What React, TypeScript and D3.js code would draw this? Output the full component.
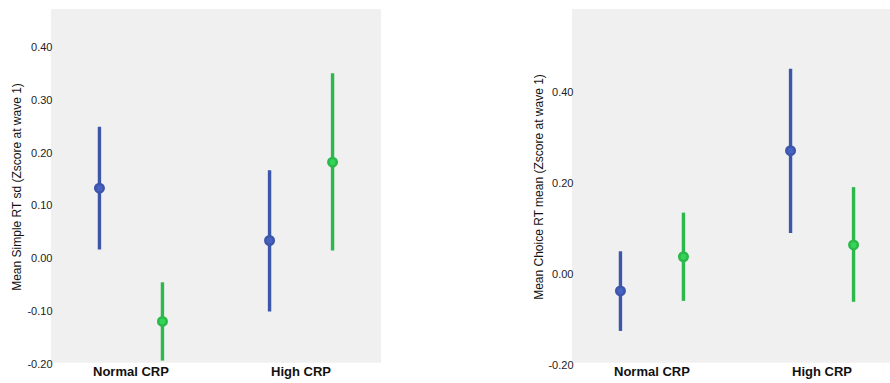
import React from "react";
import * as d3 from "d3";

const categories = ["Normal CRP", "High CRP"];
const groups = ["blue", "green"];

// left panel: Mean Simple RT sd
const simpleMean = [
  [0.133, -0.119],
  [0.034, 0.182],
];
const simpleLow = [
  [0.017, -0.193],
  [-0.1, 0.015],
];
const simpleHigh = [
  [0.249, -0.045],
  [0.167, 0.35],
];
const simpleTicks = [-0.2, -0.1, 0, 0.1, 0.2, 0.3, 0.4];

// right panel: Mean Choice RT mean
const choiceMean = [
  [-0.036, 0.039],
  [0.272, 0.065],
];
const choiceLow = [
  [-0.124, -0.058],
  [0.091, -0.06],
];
const choiceHigh = [
  [0.051, 0.136],
  [0.452, 0.192],
];
const choiceTicks = [-0.2, 0, 0.2, 0.4];

const colors = ["#3d56aa", "#2db84b"];
const font = "Arial, 'Liberation Sans', sans-serif";

interface PanelProps {
  left: number;
  title: string;
  titleX: number;
  domain: [number, number];
  yRange: [number, number];
  ticks: number[];
  mean: number[][];
  low: number[][];
  high: number[][];
}

const TOP = 9;
const BOTTOM = 362.7;
const WIDTH = 330;

const Panel: React.FC<PanelProps> = ({
  left,
  title,
  titleX,
  domain,
  yRange,
  ticks,
  mean,
  low,
  high,
}) => {
  const x = d3
    .scalePoint<string>()
    .domain(categories)
    .range([left, left + WIDTH])
    .padding(0.47);
  const dx = d3.scalePoint<string>().domain(groups).range([-31.5, 31.5]);
  const y = d3.scaleLinear().domain(domain).range(yRange);

  return (
    <g>
      <rect x={left} y={TOP} width={WIDTH} height={BOTTOM - TOP} fill="#f0f0f0" />

      {/* Y축 */}
      {ticks.map((t, i) => (
        <text
          key={i}
          x={left + 1.5}
          y={y(t)}
          dy="0.35em"
          textAnchor="end"
          fontSize={11}
          fill="#222"
        >
          {t.toFixed(2)}
        </text>
      ))}
      <text
        transform={`translate(${titleX},187) rotate(-90)`}
        textAnchor="middle"
        fontSize={12}
        fill="#111"
      >
        {title}
      </text>

      {/* X축 */}
      {categories.map((c) => (
        <text
          key={c}
          x={x(c)}
          y={375.5}
          textAnchor="middle"
          fontSize={13}
          fontWeight="bold"
          fill="#111"
        >
          {c}
        </text>
      ))}

      {/* 오차막대 */}
      {categories.map((c, ci) =>
        groups.map((g, gi) => {
          const cx = (x(c) || 0) + (dx(g) || 0);
          return (
            <g key={c + g}>
              <line
                x1={cx}
                x2={cx}
                y1={Math.min(y(low[ci][gi]), BOTTOM - 2)}
                y2={y(high[ci][gi])}
                stroke={colors[gi]}
                strokeWidth={3.4}
              />
              <circle
                cx={cx}
                cy={y(mean[ci][gi])}
                r={4.2}
                fill={d3.color(colors[gi])!.brighter(0.4).toString()}
                stroke={colors[gi]}
                strokeWidth={2.6}
              />
            </g>
          );
        })
      )}
    </g>
  );
};

export default function App() {
  return (
    <svg
      width={890}
      height={383}
      style={{ position: "absolute", left: 0, top: 0, fontFamily: font }}
    >
      <rect width={890} height={383} fill="#fff" />
      <Panel
        left={51}
        title="Mean Simple RT sd (Zscore at wave 1)"
        titleX={21}
        domain={[-0.2, 0.472]}
        yRange={[364.3, 8.8]}
        ticks={simpleTicks}
        mean={simpleMean}
        low={simpleLow}
        high={simpleHigh}
      />
      <Panel
        left={572}
        title="Mean Choice RT mean (Zscore at wave 1)"
        titleX={543}
        domain={[-0.2, 0.5835]}
        yRange={[365.5, 9]}
        ticks={choiceTicks}
        mean={choiceMean}
        low={choiceLow}
        high={choiceHigh}
      />
    </svg>
  );
}
